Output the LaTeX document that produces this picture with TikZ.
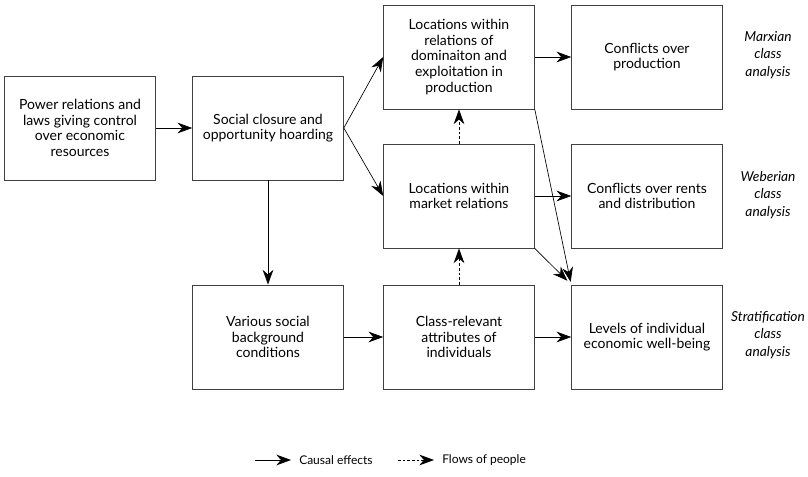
\documentclass[tikz,border=0pt]{standalone}
\usepackage{fontspec}
\setmainfont{Lato}
\usetikzlibrary{positioning, arrows.meta}

\begin{document}
\begin{tikzpicture}[
            x=0.75pt, y=-0.75pt,
            >={Stealth[length=11pt, width=8pt, inset=3.5pt]},
            box/.style={rectangle, draw=black!75, line width=0.7pt, minimum width=113pt, minimum height=78pt, align=center, font=\fontsize{10.5}{11.8}\selectfont},
            analysis/.style={align=center, font=\fontsize{10.3}{13}\selectfont\itshape},
            legend/.style={font=\fontsize{9}{10}\selectfont, inner sep=0pt},
            flow/.style={dash pattern=on 2pt off 1.5pt},
            every edge/.style={draw, line width=0.5pt},
        ]
            \useasboundingbox (0,0) rectangle (808,477);

            % Draw the boxes, column by column
            \node[box] (power) at (80,128) {Power relations and\\laws giving control\\over economic\\resources};
            \node[box] (closure) at (268,128) {Social closure and\\opportunity hoarding};
            \node[box] (background) at (268,337) {Various social\\background\\conditions};

            \node[box] (production) at (459,57) {Locations within\\relations of\\dominaiton and\\exploitation in\\production};
            \node[box] (market) at (459,196) {Locations within\\market relations};
            \node[box] (attributes) at (459,337) {Class-relevant\\attributes of\\individuals};

            \node[box] (conflict-prod) at (647,57) {Conflicts over\\production};
            \node[box] (conflict-rent) at (647,196) {Conflicts over rents\\and distribution};
            \node[box] (wellbeing) at (647,337) {Levels of individual\\economic well-being};

            % Draw the kinds of class analysis
            \foreach \name / \y / \txt in {marxian/55/Marxian, weberian/195/Weberian, stratification/335/Stratification}
                \node[analysis] (\name) at (768,\y) {\txt\\class\\analysis};

            % Causal effects
            \path[->] (power) edge (closure);
            \path[->] (closure.east) edge (production.west);
            \path[->] (closure.east) edge (market.west);
            \path[->] (closure) edge (background);
            \path[->] (background) edge (attributes);
            \path[->] (attributes) edge (wellbeing);
            \path[->] (production) edge (conflict-prod);
            \path[->] (market) edge (conflict-rent);
            \path[->] (market.south east) edge[shorten >=4pt] (wellbeing.north west);
            \path[->] (production.south east) edge[shorten >=2pt] (wellbeing.north west);

            % Flows of people
            \path[->, flow] (attributes) edge (market);
            \path[->, flow] (market) edge (production);

            % Draw the legend
            \coordinate (causal-start) at (255,460);
            \coordinate (causal-end) at (291,460);
            \node[legend, anchor=west] (causal) at (299,460) {Causal effects};
            \coordinate (flow-start) at (398,460);
            \coordinate (flow-end) at (434,460);
            \node[legend, anchor=west] (flows) at (442,460) {Flows of people};
            \path[->] (causal-start) edge (causal-end);
            \path[->, flow] (flow-start) edge (flow-end);
        \end{tikzpicture}
\end{document}
